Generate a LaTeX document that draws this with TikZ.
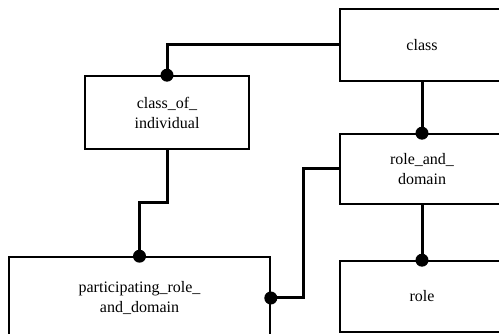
\documentclass[tikz,border=0pt]{standalone}
\usepackage{fontspec}
\setmainfont{Liberation Serif}
\usetikzlibrary{calc}

\begin{document}
\begin{tikzpicture}[x=1pt,y=-1pt,
    box/.style={draw,line width=1.6pt,minimum width=164pt,align=center,
                font=\fontsize{16}{20}\selectfont,inner sep=0pt},
    link/.style={line width=3pt,line cap=rect},
    dot/.style={fill=black}]
    \useasboundingbox (0,0) rectangle (499,334);
    \clip (0,0) rectangle (499,334);

    % entity boxes
    \node[box,minimum height=72pt] (cls) at (422,45) {class};
    \node[box,minimum height=73pt] (coi) at (167,112.5) {class\_of\_\\individual};
    \node[box,minimum height=70pt] (rad) at (422,169) {role\_and\_\\domain};
    \node[box,minimum height=71pt] (rol) at (422,296.5) {role};
    \node[box,minimum width=261pt,minimum height=82pt] (prd) at (139.5,298)
        {participating\_role\_\\and\_domain};

    % relationships
    \draw[link] (cls.west) -| (coi.north);
    \draw[link] (cls.south) -- (rad.north);
    \draw[link] (rad.south) -- (rol.north);
    \draw[link] (coi.south) |- ($(coi.south)!.5!(prd.north)$) -| (prd.north);
    \draw[link] (rad.west) -- ++(-36,0) |- (prd.east);

    \fill[dot] (coi.north) circle (6.5);
    \fill[dot] (rad.north) circle (6.5);
    \fill[dot] (rol.north) circle (6.5);
    \fill[dot] (prd.north) circle (6.5);
    \fill[dot] (prd.east) circle (6.5);
\end{tikzpicture}
\end{document}
